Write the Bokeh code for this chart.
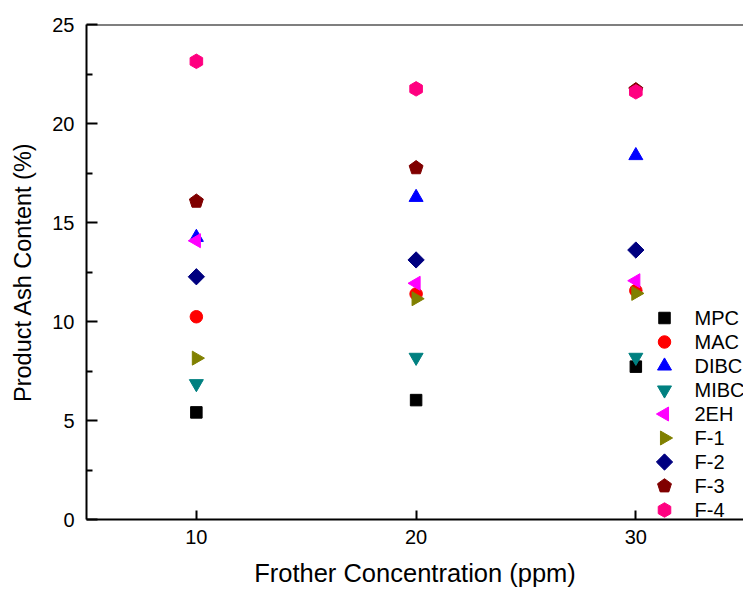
import math
from bokeh.plotting import figure
from bokeh.models import Range1d, FixedTicker, Span
from bokeh.core.properties import value
from bokeh.embed import file_html
from bokeh.resources import INLINE

# ---- data ----
conc = [10, 20, 30]
mpc = [5.41, 6.03, 7.72]
mac = [10.24, 11.39, 11.56]
dibc = [14.25, 16.27, 18.38]
mibc = [6.86, 8.19, 8.19]
eh2 = [14.08, 11.93, 12.06]
f1 = [8.15, 11.15, 11.42]
f2 = [12.26, 13.11, 13.61]
f3 = [16.07, 17.76, 21.70]
f4 = [23.14, 21.75, 21.60]

names = ["MPC", "MAC", "DIBC", "MIBC", "2EH", "F-1", "F-2", "F-3", "F-4"]
series = [mpc, mac, dibc, mibc, eh2, f1, f2, f3, f4]
colors = ["#000000", "#FF0000", "#0000FF", "#008080", "#FF00FF",
          "#808000", "#000080", "#800000", "#FF0080"]
x_ticks = [10, 20, 30]
y_ticks = [0, 5, 10, 15, 20, 25]
y_minor = [2.5, 7.5, 12.5, 17.5, 22.5]

FONT = "Liberation Sans"
W, H = 743, 593
BL, BR, BT, BB = 86, 0, 24, 74
FW, FH = W - BL - BR, H - BT - BB

p = figure(width=W, height=H, output_backend="svg", toolbar_location=None,
           x_range=Range1d(5, 34.9), y_range=Range1d(0, 25),
           min_border_left=BL, min_border_right=BR, min_border_top=BT,
           min_border_bottom=BB)
p.outline_line_color = None
p.xgrid.visible = False
p.ygrid.visible = False
p.background_fill_color = "white"

# screen-pixel ranges for the legend block
p.extra_x_ranges = {"leg": Range1d(0, FW)}
p.extra_y_ranges = {"leg": Range1d(0, FH)}

# axes
p.xaxis.ticker = FixedTicker(ticks=x_ticks)
p.yaxis.ticker = FixedTicker(ticks=y_ticks, minor_ticks=y_minor)
for ax in (p.xaxis[0], p.yaxis[0]):
    ax.axis_line_width = 2
    ax.axis_line_color = "black"
    ax.major_tick_line_width = 2
    ax.minor_tick_line_width = 2
    ax.major_tick_out = 0
    ax.minor_tick_out = 0
    ax.major_label_text_font = FONT
    ax.major_label_text_font_size = "20px"
    ax.major_label_text_color = "black"
    ax.axis_label_text_font = FONT
    ax.axis_label_text_font_style = "normal"
    ax.axis_label_text_color = "black"
p.xaxis.axis_label_text_font_size = "25.5px"
p.yaxis.axis_label_text_font_size = "23.5px"
p.xaxis.major_tick_in = 9
p.xaxis.minor_tick_in = 0
p.yaxis.major_tick_in = 11
p.yaxis.minor_tick_in = 6
p.xaxis.major_label_standoff = 10
p.yaxis.major_label_standoff = 12
p.xaxis.axis_label = "Frother Concentration (ppm)"
p.yaxis.axis_label = "Product Ash Content (%)"
p.xaxis.axis_label_standoff = 12
p.yaxis.axis_label_standoff = 13

# top frame line
p.add_layout(Span(location=25, dimension="width", line_color="black", line_width=2))

# marker specs (style only)
specs = [
    dict(marker="square", size=11.5, angle=0.0),
    dict(marker="circle", size=12.5, angle=0.0),
    dict(marker="triangle", size=14, angle=0.0),
    dict(marker="inverted_triangle", size=14, angle=0.0),
    dict(marker="triangle", size=14, angle=math.pi / 2),
    dict(marker="triangle", size=14, angle=-math.pi / 2),
    dict(marker="square", size=11.5, angle=math.pi / 4),
    None,  # pentagon -> ngon
    dict(marker="hex", size=14.5, angle=math.pi / 2),
]

# legend layout (pixels relative to frame)
LEG_GX = 578
LEG_TX = 608
LEG_Y0 = 9.5
LEG_STEP = 24
n = len(names)
leg_rows = [LEG_Y0 + LEG_STEP * (n - 1 - i) for i in range(n)]

for i, (vals, col, sp) in enumerate(zip(series, colors, specs)):
    if sp is None:
        p.ngon(x=conc, y=vals, radius=7.3, radius_units="screen", n=5,
               fill_color=col, line_color=col)
        p.ngon(x=[LEG_GX], y=[leg_rows[i]], radius=7.3, radius_units="screen", n=5,
               fill_color=col, line_color=col,
               x_range_name="leg", y_range_name="leg")
    else:
        p.scatter(conc, vals, marker=sp["marker"], size=sp["size"], angle=sp["angle"],
                  color=col)
        p.scatter([LEG_GX], [leg_rows[i]], marker=sp["marker"], size=sp["size"],
                  angle=sp["angle"], color=col,
                  x_range_name="leg", y_range_name="leg")

p.text(x=[LEG_TX] * n, y=leg_rows, text=names, text_baseline="middle",
       text_align="left", text_font=value(FONT), text_font_size="20px",
       text_color="black", x_range_name="leg", y_range_name="leg")

open("out.html", "w").write(file_html(p, INLINE))
